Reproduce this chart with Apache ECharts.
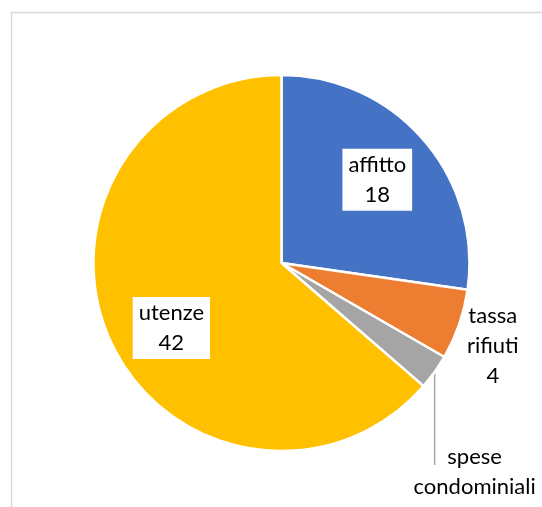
<!DOCTYPE html>
<html>
<head>
<meta charset="utf-8">
<script src="https://cdn.jsdelivr.net/npm/echarts@6/dist/echarts.min.js"></script>
<style>
  html, body { margin: 0; padding: 0; background: #ffffff; }
  #chart { width: 542px; height: 507px; }
</style>
</head>
<body>
<div id="chart"></div>
<script>
// Monthly household costs, one slice per item
const categories = ['affitto', 'tassa rifiuti', 'spese condominiali', 'utenze'];
const values = [18, 4, 2, 42];
const colors = ['#4472C4', '#ED7D31', '#A5A5A5', '#FFC000'];

// Pie geometry
const CX = 281.5, CY = 263, R = 188;
const FONT = 'Lato';

// Label placement per slice: [distance as a fraction of R, angle in degrees clockwise from 12 o'clock]
const labelPolar = [[0.675, 49], [1.207, 111.4], null, [0.68, 239.5]];

const total = values.reduce((a, b) => a + b, 0);
const midAngles = [];
let acc = 0;
values.forEach(v => { midAngles.push((acc + v / 2) / total * 360); acc += v; });

function polar(dist, deg) {
  const a = deg * Math.PI / 180;
  return [CX + dist * Math.sin(a), CY - dist * Math.cos(a)];
}

const insideLabel = {
  position: 'inside',
  backgroundColor: '#ffffff',
  padding: [1, 6, 1, 6]
};

const chart = echarts.init(document.getElementById('chart'), null, { renderer: 'canvas' });

chart.setOption({
  animation: false,
  graphic: [{
    type: 'rect',
    silent: true,
    shape: { x: 11.5, y: 12.5, width: 700, height: 700 },
    style: { fill: 'none', stroke: '#D9D9D9', lineWidth: 1.5 }
  }],
  series: [{
    type: 'pie',
    center: [CX, CY],
    radius: [0, R],
    startAngle: 90,
    clockwise: true,
    avoidLabelOverlap: false,
    silent: true,
    itemStyle: { borderColor: '#ffffff', borderWidth: 2.5 },
    label: {
      show: true,
      fontFamily: FONT,
      fontSize: 22,
      lineHeight: 30,
      color: '#000000',
      align: 'center',
      formatter: p => p.name.split(' ').join('\n') + '\n' + p.value
    },
    labelLine: { show: true, lineStyle: { color: '#A6A6A6', width: 1.5 } },
    labelLayout: function (p) {
      const i = p.dataIndex;
      if (labelPolar[i]) {
        const pt = polar(labelPolar[i][0] * R, labelPolar[i][1]);
        return { x: pt[0], y: pt[1], align: 'center', verticalAlign: 'middle' };
      }
      // leader line drops straight down from the slice edge to the label
      const edge = polar(R, midAngles[i]);
      const end = [edge[0], edge[1] + 93];
      return {
        x: edge[0] + 40,
        y: edge[1] + 115,
        align: 'center',
        verticalAlign: 'middle',
        labelLinePoints: [edge, [edge[0], edge[1] + 46], end]
      };
    },
    data: categories.map((name, i) => {
      const item = { name: name, value: values[i], itemStyle: { color: colors[i] } };
      if (i === 0 || i === 3) {
        item.label = insideLabel;
        item.labelLine = { show: false };
      } else if (i === 1) {
        item.label = { position: 'outside' };
        item.labelLine = { show: false };
      } else {
        item.label = { position: 'outside' };
      }
      return item;
    })
  }]
});
</script>
</body>
</html>
